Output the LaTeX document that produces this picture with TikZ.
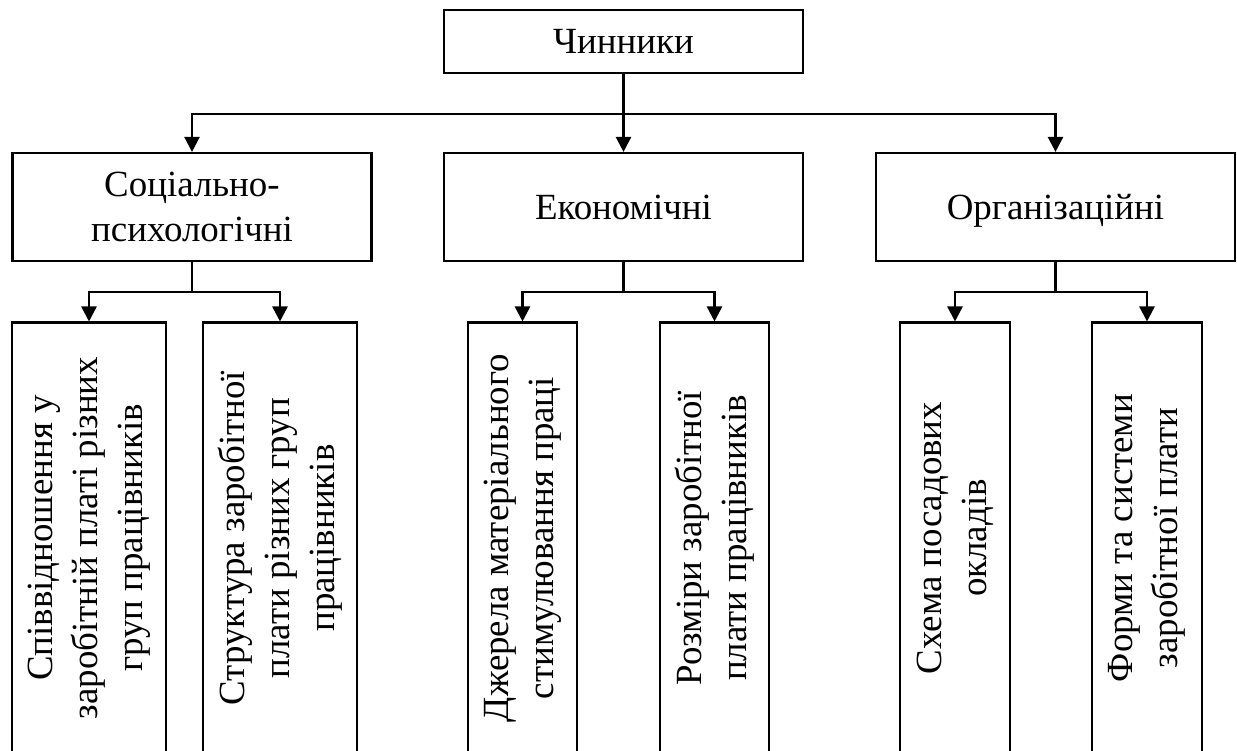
\documentclass[tikz,border=0pt]{standalone}
\usepackage{fontspec}
\setmainfont{Liberation Serif}
\usetikzlibrary{arrows.meta,calc}
\tikzset{
  factorbox/.style={draw, line width=1.2pt, inner sep=2pt,
    font=\fontsize{21}{25.5}\selectfont},
  groupbox/.style={factorbox, minimum width=7.18cm, minimum height=2.16cm},
  oneline/.style={text height=14pt, text depth=0pt},
  twolines/.style={align=center},
  leafbox/.style={factorbox, twolines, rotate=90, anchor=east, minimum width=8.62cm},
  link/.style={line width=1.4pt},
  linkarrow/.style={link, -{Triangle[width=0.3cm,length=0.3cm]}}
}

\begin{document}
\begin{tikzpicture}
			%%%%% START %%%%%
			\useasboundingbox (0, 0) rectangle (24.74, 15.02);
			
			\node[factorbox, oneline, minimum width=7.18cm, minimum height=1.26cm] (root) at (12.47, 14.19) {Чинники};
			
			\node[groupbox, twolines] (soc) at (3.84, 10.88) {Соціально-\\психологічні};
			\node[groupbox, oneline] (eco) at (12.47, 10.88) {Економічні};
			\node[groupbox, oneline] (org) at (21.11, 10.88) {Організаційні};
			
			\node[leafbox, minimum height=3.08cm] (soc1) at (1.78, 8.59) {Співвідношення у\\заробітній платі різних\\груп працівників};
			\node[leafbox, minimum height=3.08cm] (soc2) at (5.60, 8.59) {Структура заробітної\\плати різних груп\\працівників};
			\node[leafbox, minimum height=2.18cm] (eco1) at (10.45, 8.59) {Джерела матеріального\\стимулювання праці};
			\node[leafbox, minimum height=2.18cm] (eco2) at (14.29, 8.59) {Розміри заробітної\\плати працівників};
			\node[leafbox, minimum height=2.2cm] (org1) at (19.10, 8.59) {Схема посадових\\окладів};
			\node[leafbox, minimum height=2.2cm] (org2) at (22.94, 8.59) {Форми та системи\\заробітної плати};
			
			% first level
			\coordinate (hub) at ($(root.south)+(0, -0.8)$);
			\draw[linkarrow] (root.south) -- (eco.north);
			\draw[linkarrow] (hub) -| (soc.north);
			\draw[linkarrow] (hub) -| (org.north);
			
			% second level
			\coordinate (hubsoc) at ($(soc.south)+(0, -0.6)$);
			\draw[link] (soc.south) -- (hubsoc);
			\draw[linkarrow] (hubsoc) -| (soc1.east);
			\draw[linkarrow] (hubsoc) -| (soc2.east);
			
			\coordinate (hubeco) at ($(eco.south)+(0, -0.6)$);
			\draw[link] (eco.south) -- (hubeco);
			\draw[linkarrow] (hubeco) -| (eco1.east);
			\draw[linkarrow] (hubeco) -| (eco2.east);
			
			\coordinate (huborg) at ($(org.south)+(0, -0.6)$);
			\draw[link] (org.south) -- (huborg);
			\draw[linkarrow] (huborg) -| (org1.east);
			\draw[linkarrow] (huborg) -| (org2.east);
			%%%%% END %%%%%
\end{tikzpicture}
\end{document}
